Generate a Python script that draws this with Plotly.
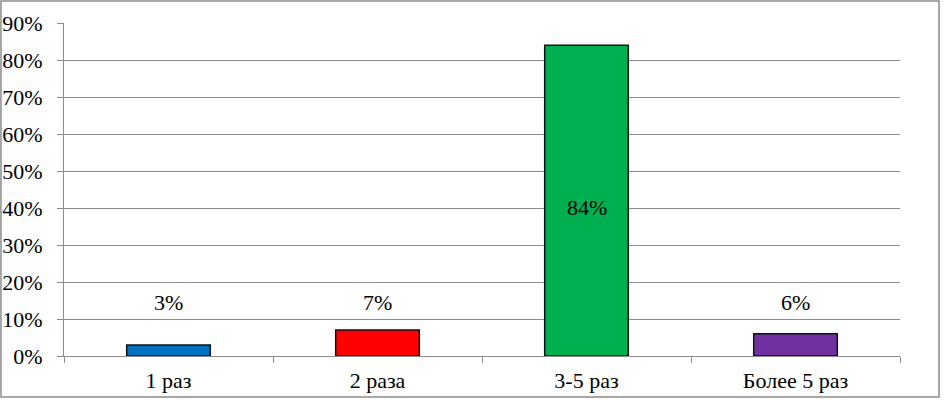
import plotly.graph_objects as go

# --- data ---
categories = ["1 раз", "2 раза", "3-5 раз", "Более 5 раз"]
values = [3, 7, 84, 6]
labels = ["3%", "7%", "84%", "6%"]
colors = ["#0070C0", "#FF0000", "#00B050", "#7030A0"]
y_ticks = [0, 10, 20, 30, 40, 50, 60, 70, 80, 90]

FONT = "Liberation Serif"
GRID = "#8c8c8c"

fig = go.Figure()
fig.add_trace(go.Bar(
    x=categories, y=values, width=0.4,
    marker=dict(color=colors, line=dict(color="#111", width=1.5)),
    hoverinfo="skip", showlegend=False))

# data labels: small bars get theirs floating above, the tall one in the middle
for cat, v, lab in zip(categories, values, labels):
    if v > 50:
        fig.add_annotation(x=cat, y=v / 2, text=lab, showarrow=False, yshift=-7,
                           font=dict(family=FONT, size=22, color="#000"))
    else:
        fig.add_annotation(x=cat, y=0, text=lab, showarrow=False, yshift=54,
                           yanchor="middle",
                           font=dict(family=FONT, size=22, color="#000"))

# outer chart border
fig.add_shape(type="rect", xref="paper", yref="paper",
              x0=-0.0754, x1=1.0467, y0=-0.123, y1=1.066,
              line=dict(color="#8c8c8c", width=1.5), fillcolor="rgba(0,0,0,0)")

fig.update_layout(
    width=944, height=400,
    margin=dict(l=64, r=44, t=23, b=44),
    paper_bgcolor="white", plot_bgcolor="white",
    font=dict(family=FONT, size=22, color="#000"),
    bargap=0.6,
)
fig.update_yaxes(
    range=[0, 90], tickvals=y_ticks, ticktext=[f"{t}%" for t in y_ticks],
    showgrid=True, gridcolor=GRID, gridwidth=1,
    showline=True, linecolor=GRID, linewidth=1,
    ticks="outside", ticklen=6, tickcolor=GRID, zeroline=False,
    ticklabelstandoff=10, automargin=False,
    tickfont=dict(family=FONT, size=22, color="#000"))
fig.update_xaxes(
    showline=True, linecolor=GRID, linewidth=1,
    ticks="outside", ticklen=6, tickcolor=GRID, tickson="boundaries",
    showgrid=False, ticklabelstandoff=5, automargin=False,
    tickfont=dict(family=FONT, size=22, color="#000"))

fig.write_html("out.html", config={"displayModeBar": False},
               post_script="document.body.style.margin='0';")
